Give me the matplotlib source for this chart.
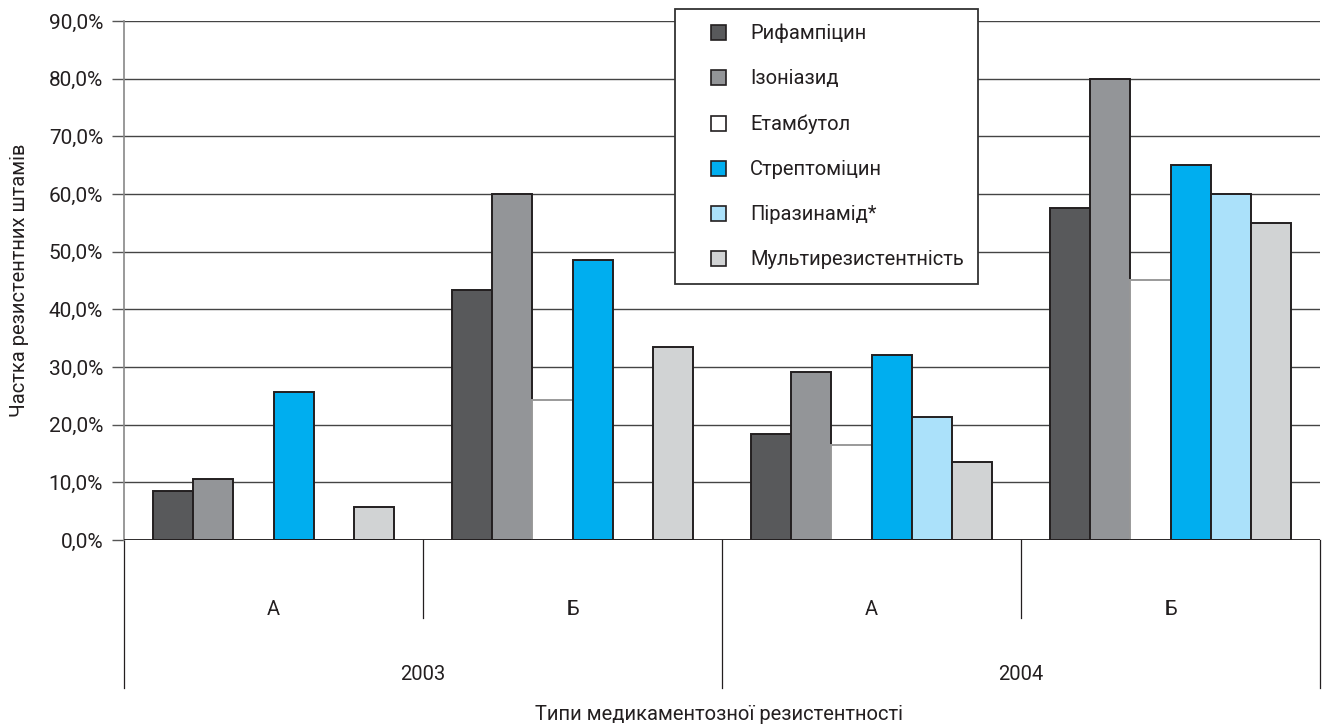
import matplotlib
matplotlib.use("Agg")
import matplotlib.pyplot as plt
from matplotlib.lines import Line2D
import numpy as np

plt.rcParams['font.family'] = ['Roboto', 'DejaVu Sans']

# drug series, values in percent of resistant strains
drugs = ['Рифампіцин', 'Ізоніазид', 'Етамбутол', 'Стрептоміцин',
         'Піразинамід*', 'Мультирезистентність']
colors = ['#58595b', '#939598', '#ffffff', '#00aeef', '#abe1fa', '#d1d3d4']

types = ['А', 'Б', 'А', 'Б']
years = ['2003', '2004']

rifampicin = [8.5, 43.4, 18.4, 57.6]
isoniazid = [10.5, 60.0, 29.1, 80.0]
ethambutol = [0.0, 24.3, 16.5, 45.1]
streptomycin = [25.6, 48.6, 32.0, 65.0]
pyrazinamide = [0.0, 0.0, 21.4, 60.0]
multiresist = [5.7, 33.4, 13.6, 55.0]

series = [rifampicin, isoniazid, ethambutol, streptomycin, pyrazinamide, multiresist]
ink = '#231f20'

fig = plt.figure(figsize=(13.24, 7.26), dpi=100)
ax = fig.add_axes([124 / 1324, (726 - 540) / 726, (1320 - 124) / 1324, 519 / 726])

x = np.arange(len(types))
w = 0.1338
for k, (vals, name, col) in enumerate(zip(series, drugs, colors)):
    edge = '#9a9a9a' if col == '#ffffff' else ink
    ax.bar(x + (k - 2.5) * w, vals, width=w, color=col, edgecolor=edge,
           linewidth=1.4, zorder=3)

ax.set_xlim(-0.5, 3.5)
ax.set_ylim(0, 90)
ax.set_yticks(np.arange(0, 91, 10))
ax.set_yticklabels([f'{v:.1f}%'.replace('.', ',') for v in np.arange(0, 91, 10)],
                   fontsize=15, color=ink)
ax.yaxis.grid(True, color='#444444', linewidth=1.0, zorder=0)
ax.set_xticks([])
ax.tick_params(axis='y', length=9, width=1, color='#555555', pad=6)
for s in ['top', 'right', 'bottom']:
    ax.spines[s].set_visible(False)
ax.spines['left'].set_color('#888888')
ax.spines['left'].set_linewidth(1.2)
ax.axhline(0, color=ink, linewidth=1.3, zorder=4)

# two-level category axis below the plot
tr = ax.get_xaxis_transform()
for b in [0.5, 2.5]:
    ax.plot([b, b], [0, -0.150], transform=tr, clip_on=False, color=ink, lw=0.9)
for b in [-0.5, 1.5, 3.5]:
    ax.plot([b, b], [0, -0.285], transform=tr, clip_on=False, color=ink, lw=0.9)
for i, t in enumerate(types):
    ax.text(i, -0.133, t, transform=tr, ha='center', va='center', fontsize=14.5, color=ink)
for j, yr in enumerate(years):
    ax.text(2 * j + 0.5, -0.26, yr, transform=tr, ha='center', va='center', fontsize=14.5, color=ink)
ax.text(1.49, -0.337, 'Типи медикаментозної резистентності', transform=tr,
        ha='center', va='center', fontsize=14.5, color=ink)

fig.text(20 / 1324, 1 - 280 / 726, 'Частка резистентних штамів', rotation=90,
         ha='center', va='center', fontsize=14.5, color=ink)

handles = [Line2D([], [], linestyle='none', marker='s', markersize=10.8,
                  markerfacecolor=c, markeredgecolor=ink, markeredgewidth=1.2)
           for c in colors]
leg = fig.legend(handles, drugs, loc='upper left', bbox_to_anchor=(675 / 1324, 1 - 9 / 726),
                 fontsize=14.5, frameon=True, fancybox=False, shadow=False,
                 handlelength=2.8, handletextpad=0.2, labelspacing=1.3,
                 borderpad=0.72, borderaxespad=0, edgecolor='#333333', framealpha=1)
leg.get_frame().set_linewidth(1.3)
for t in leg.get_texts():
    t.set_color(ink)

fig.savefig('out.png', dpi=100)
